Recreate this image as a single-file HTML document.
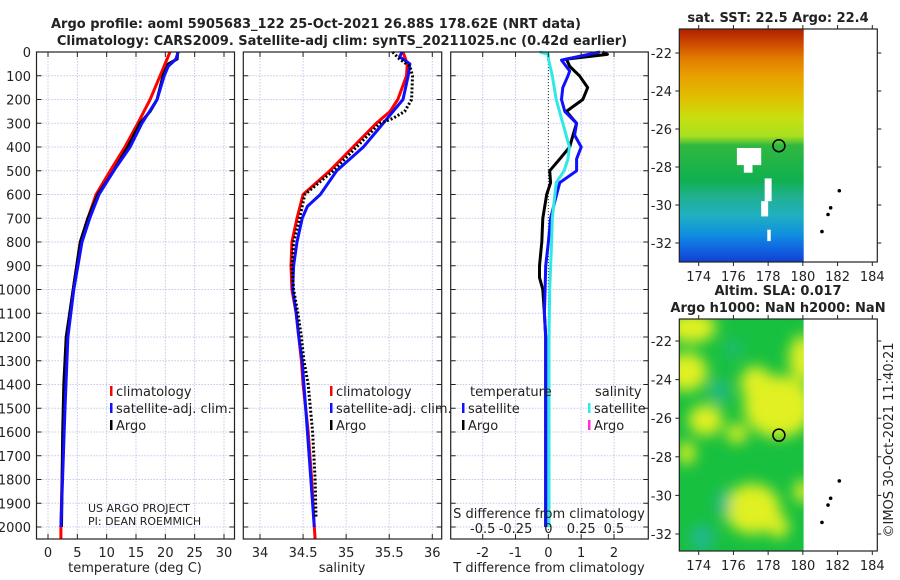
<!DOCTYPE html>
<html><head><meta charset="utf-8">
<style>
html,body{margin:0;padding:0;background:#fff;}
svg{display:block;font-family:"DejaVu Sans","Liberation Sans",sans-serif;}
</style></head>
<body>
<svg id="c" width="900" height="580" viewBox="0 0 900 580" xmlns="http://www.w3.org/2000/svg">
<defs>
<linearGradient id="sstGrad" x1="0" y1="0" x2="0" y2="1">
<stop offset="0" stop-color="#b02000"/><stop offset="0.05" stop-color="#c84000"/>
<stop offset="0.12" stop-color="#e07800"/><stop offset="0.2" stop-color="#e8a000"/>
<stop offset="0.3" stop-color="#e0c000"/><stop offset="0.38" stop-color="#c8e010"/>
<stop offset="0.46" stop-color="#a8e020"/><stop offset="0.5" stop-color="#30b840"/>
<stop offset="0.65" stop-color="#10b050"/><stop offset="0.72" stop-color="#20b090"/>
<stop offset="0.8" stop-color="#20b0c0"/><stop offset="0.88" stop-color="#1090e0"/>
<stop offset="0.95" stop-color="#1060e0"/><stop offset="1" stop-color="#1040d0"/>
</linearGradient>
<filter id="blur6"><feGaussianBlur stdDeviation="7"/></filter>
<clipPath id="clipSla"><rect x="679.3" y="319" width="124.4" height="232"/></clipPath>
</defs>
<g id="root"></g>
</svg>
<script>
// ---------- data ----------
const depthTicks = [0,100,200,300,400,500,600,700,800,900,1000,1100,1200,1300,1400,1500,1600,1700,1800,1900,2000];
const tempTicks = [0,5,10,15,20,25,30];
const salTicks = [34,34.5,35,35.5,36];
const salTickLabels = ["34","34.5","35","35.5","36"];
const diffTicks = [-2,-1,0,1,2];
const sdiffTicks = [-0.5,-0.25,0,0.25,0.5];
const sdiffLabels = ["-0.5","-0.25","0","0.25","0.5"];

const tClimDepth = [0,100,200,300,400,500,600,700,800,1000,1200,1500,2000,2050];
const tClimVal   = [20.8,19.1,17.4,15.3,13.1,10.6,8.2,6.8,5.5,4.3,3.2,2.7,2.2,2.2];
const tSatDepth  = [0,30,60,100,200,300,400,500,600,700,800,1000,1200,1500,2000];
const tSatVal    = [22.2,21.8,20.5,19.8,18.6,16.0,14.0,11.2,8.7,7.1,5.8,4.4,3.4,2.9,2.2];
const tArgoDepth = [0,30,50,100,200,250,300,400,500,600,700,800,1000,1200,1400,1600,1800,2000];
const tArgoVal   = [22.1,22.0,20.5,19.6,18.6,17.4,15.7,13.6,11.2,8.5,6.8,5.5,4.3,3.1,2.7,2.5,2.4,2.3];

const sClimDepth = [0,50,100,200,250,300,400,500,600,700,800,900,1000,1100,1200,1300,1400,1500,1600,1800,2000,2050];
const sClimVal   = [35.66,35.71,35.70,35.60,35.51,35.35,35.08,34.81,34.50,34.43,34.37,34.36,34.37,34.42,34.45,34.48,34.50,34.53,34.56,34.60,34.63,34.64];
const sSatDepth  = [0,20,50,100,200,300,400,500,600,650,700,800,900,1000,1100,1200,1300,1400,1500,2000];
const sSatVal    = [35.65,35.62,35.74,35.72,35.66,35.43,35.20,34.89,34.70,34.55,34.49,34.43,34.39,34.38,34.42,34.45,34.49,34.51,34.53,34.63];
const sArgoDepth = [0,15,30,60,100,200,250,280,300,400,500,600,700,800,900,1000,1100,1200,1300,1400,1600,1800,1960];
const sArgoVal   = [35.54,35.58,35.62,35.74,35.77,35.76,35.68,35.54,35.39,35.12,34.85,34.52,34.46,34.39,34.37,34.39,34.44,34.48,34.51,34.56,34.61,34.64,34.65];

const dTSatDepth = [0,34,80,100,150,200,250,300,350,400,450,500,550,600,700,800,900,1000,1100,1200,2000];
const dTSatVal   = [1.57,0.40,0.65,0.60,0.44,0.40,0.50,0.86,0.80,1.00,0.86,0.86,0.35,0.25,0.07,0.0,-0.08,-0.10,-0.12,-0.08,-0.08];
const dTArgoDepth = [0,10,30,60,100,150,200,250,300,350,400,450,500,550,600,700,800,900,950,1000,1100,1200,2000];
const dTArgoVal   = [1.65,1.80,0.55,0.65,0.95,1.20,1.05,0.55,0.86,0.75,0.65,0.35,0.04,0.07,-0.05,-0.17,-0.20,-0.27,-0.27,-0.17,-0.12,-0.08,-0.08];
const dSSatDepth = [0,10,30,100,200,300,400,450,500,550,600,700,800,1000,1200,2000];
const dSSatVal   = [-0.066,0.0,0.0,0.03,0.06,0.11,0.16,0.15,0.12,0.06,0.05,0.03,0.025,0.01,0.005,0.005];

const latTicks = [-22,-24,-26,-28,-30,-32];
const lonTicks = [174,176,178,180,182,184];
const argoLon = [178.62];
const argoLat = [-26.88];
const islandLon = [182.1,181.6,181.45,181.1];
const islandLat = [-29.25,-30.15,-30.5,-31.4];

// ---------- helpers ----------
const NS = "http://www.w3.org/2000/svg";
const root = document.getElementById('root');
function mk(tag, attrs, parent){
  const e = document.createElementNS(NS, tag);
  for (const k in attrs) e.setAttribute(k, attrs[k]);
  (parent||root).appendChild(e);
  return e;
}
function txt(s, x, y, size, anchor, weight, parent){
  const t = mk('text', {x:x, y:y, 'font-size':size, 'text-anchor':anchor||'middle', 'font-weight':weight||'normal', fill:'#222'}, parent);
  t.textContent = s;
  return t;
}
const TOP = 52, BOT = 539;
const yD = d => 52 + d * 0.2375;
function lin(d0,d1,r0,r1){ return v => r0 + (v-d0)/(d1-d0)*(r1-r0); }

const panels = [
  {name:'temperature-panel', x0:36.5, x1:234.5, sx: lin(0,30,48,224)},
  {name:'salinity-panel', x0:243.3, x1:441.7, sx: lin(34,36,260,432.3)},
  {name:'difference-panel', x0:450.7, x1:648.3, sx: lin(-2,2,482.7,614)}
];

function frame(p, xt){
  const g = mk('g', {});
  
  
  depthTicks.forEach(d => {
    const l = mk('line', {x1:p.x0, x2:p.x1, y1:yD(d), y2:yD(d), stroke:'#c4c8ea', 'stroke-width':1, 'stroke-dasharray':'1.5,1.5'}, g);
    
    
  });
  xt.forEach(v => {
    const x = p.sx(v);
    const l = mk('line', {x1:x, x2:x, y1:TOP, y2:BOT, stroke:'#c4c8ea', 'stroke-width':1, 'stroke-dasharray':'1.5,1.5'}, g);
    
    
  });
  return g;
}
function frameBox(p, g, xt, labels){
  mk('rect', {x:p.x0, y:TOP, width:p.x1-p.x0, height:BOT-TOP, fill:'none', stroke:'#222', 'stroke-width':1.2}, g);
  depthTicks.forEach(d => {
    mk('line', {x1:p.x0, x2:p.x0+5, y1:yD(d), y2:yD(d), stroke:'#222'}, g);
    mk('line', {x1:p.x1-5, x2:p.x1, y1:yD(d), y2:yD(d), stroke:'#222'}, g);
  });
  xt.forEach((v,i) => {
    const x = p.sx(v);
    mk('line', {x1:x, x2:x, y1:BOT, y2:BOT-5, stroke:'#222'}, g);
    mk('line', {x1:x, x2:x, y1:TOP, y2:TOP+5, stroke:'#222'}, g);
    const t = txt(labels ? labels[i] : String(v), x, 557, 13, 'middle', 'normal', g);
    
    
  });
}
function line(p, depths, vals, color, w, dash, g, name){
  const pts = depths.map((d,i) => p.sx(vals[i]).toFixed(1) + ',' + yD(d).toFixed(1)).join(' ');
  const a = {points:pts, fill:'none', stroke:color, 'stroke-width':w, 'stroke-linejoin':'round'};
  if (dash) a['stroke-dasharray'] = dash;
  const e = mk('polyline', a, g);
  
  
  return e;
}

const t1 = txt('Argo profile: aoml 5905683_122 25-Oct-2021 26.88S 178.62E (NRT data)', 316, 28, 13, 'middle', 'bold');


const t2 = txt('Climatology: CARS2009. Satellite-adj clim: synTS_20211025.nc (0.42d earlier)', 342, 45, 13, 'middle', 'bold');



depthTicks.forEach(d => {
  const t = txt(String(d), 31, yD(d)+5, 13, 'end');
  
  
});

let p = panels[0];
let g = frame(p, tempTicks);
line(p, tClimDepth, tClimVal, '#ff0000', 3, null, g, 'temp-climatology-line');
line(p, tArgoDepth, tArgoVal, '#000000', 3, null, g, 'temp-argo-line');
line(p, tSatDepth, tSatVal, '#1010ff', 3, null, g, 'temp-satellite-line');
frameBox(p, g, tempTicks);
let at = txt('temperature (deg C)', 135, 572, 13);



p = panels[1];
g = frame(p, salTicks);
line(p, sClimDepth, sClimVal, '#ff0000', 3, null, g, 'sal-climatology-line');
line(p, sSatDepth, sSatVal, '#1010ff', 3, null, g, 'sal-satellite-line');
line(p, sArgoDepth, sArgoVal, '#000000', 3, '2,2', g, 'sal-argo-line');
frameBox(p, g, salTicks, salTickLabels);
at = txt('salinity', 342, 572, 13);



p = panels[2];
g = frame(p, diffTicks);
const zl = mk('line', {x1:p.sx(0), x2:p.sx(0), y1:TOP, y2:BOT, stroke:'#333', 'stroke-width':1, 'stroke-dasharray':'1,2'}, g);


const ps = {sx: lin(-0.5,0.5,482.7,614)};
line(p, dTArgoDepth, dTArgoVal, '#000000', 3, null, g, 'tdiff-argo-line');
line(p, dTSatDepth, dTSatVal, '#1010ff', 3, null, g, 'tdiff-satellite-line');
line(ps, dSSatDepth, dSSatVal, '#30e8e8', 3, null, g, 'sdiff-satellite-line');
frameBox(p, g, diffTicks);
at = txt('T difference from climatology', 549, 572, 13);


at = txt('S difference from climatology', 549, 518, 13);


sdiffTicks.forEach((v,i) => {
  const t = txt(sdiffLabels[i], ps.sx(v), 533, 13);
  
  
});

function legend(x, y, color, label, name){
  const lg = mk('g', {});
  
  
  mk('rect', {x:x, y:y-10, width:2.5, height:10, fill:color}, lg);
  txt(label, x+6, y, 13, 'start', 'normal', lg);
}
legend(110, 396, '#ff0000', 'climatology', 'legend-entry-climatology');
legend(110, 413, '#1010ff', 'satellite-adj. clim.', 'legend-entry-satellite');
legend(110, 430, '#000000', 'Argo', 'legend-entry-argo');
legend(330, 396, '#ff0000', 'climatology', 'legend-entry-climatology-2');
legend(330, 413, '#1010ff', 'satellite-adj. clim.', 'legend-entry-satellite-2');
legend(330, 430, '#000000', 'Argo', 'legend-entry-argo-2');
let lt = txt('temperature', 470, 396, 13, 'start');


lt = txt('salinity', 595, 396, 13, 'start');


legend(462, 413, '#1010ff', 'satellite', 'legend-entry-tdiff-satellite');
legend(462, 430, '#000000', 'Argo', 'legend-entry-tdiff-argo');
legend(588, 413, '#30e8e8', 'satellite', 'legend-entry-sdiff-satellite');
legend(588, 430, '#ff30d0', 'Argo', 'legend-entry-sdiff-argo');

let pi = txt('US ARGO PROJECT', 88, 512, 11, 'start');


pi = txt('PI: DEAN ROEMMICH', 88, 525, 11, 'start');



const MX0 = 679.3, MX1 = 877.3;
const mlon = lin(174, 184, 698.7, 872.3);
function mapAxes(y0, y1, latFn, name, titles, field){
  const mg = mk('g', {});
  
  
  field(mg);
  mk('rect', {x:MX0, y:y0, width:MX1-MX0, height:y1-y0, fill:'none', stroke:'#222', 'stroke-width':1.2}, mg);
  latTicks.forEach(v => {
    const y = latFn(v);
    mk('line', {x1:MX0-4, x2:MX0, y1:y, y2:y, stroke:'#222'}, mg);
    mk('line', {x1:MX1, x2:MX1+4, y1:y, y2:y, stroke:'#222'}, mg);
    const t = txt(String(v), 672, y+5, 13, 'end', 'normal', mg);
    
    
  });
  lonTicks.forEach(v => {
    const x = mlon(v);
    mk('line', {x1:x, x2:x, y1:y1, y2:y1+4, stroke:'#222'}, mg);
    mk('line', {x1:x, x2:x, y1:y0-4, y2:y0, stroke:'#222'}, mg);
    const t = txt(String(v), x, y1+19, 13, 'middle', 'normal', mg);
    
    
  });
  islandLon.forEach((lo,i) => {
    const d = mk('circle', {cx:mlon(lo), cy:latFn(islandLat[i]), r:1.8, fill:'#000'}, mg);
    
    
  });
  argoLon.forEach((lo,i) => {
    const c = mk('circle', {cx:mlon(lo), cy:latFn(argoLat[i]), r:6, fill:'none', stroke:'#000', 'stroke-width':1.5}, mg);
    
    
  });
  titles.forEach(tt => {
    const t = txt(tt[0], 778, tt[1], 13, 'middle', 'bold', mg);
    
    
  });
}
const lat1 = lin(-22, -32, 53, 243);
mapAxes(29, 262, lat1, 'sst-map', [['sat. SST: 22.5 Argo: 22.4', 22]], mg => {
  const r = mk('rect', {x:MX0, y:29, width:124.4, height:233, fill:'url(#sstGrad)'}, mg);
  
  
  [[176.2,-27.0,1.4,0.9],[176.6,-27.7,0.5,0.6],[177.8,-28.6,0.4,1.2],[177.6,-29.8,0.4,0.8],[177.95,-31.3,0.2,0.6]].forEach(w => {
    mk('rect', {x:mlon(w[0]), y:lat1(w[1]), width:w[2]*17.36, height:w[3]*19, fill:'#fff'}, mg);
  });
});
const lat2 = lin(-22, -32, 341, 534);
mapAxes(319, 551, lat2, 'sla-map', [['Altim. SLA: 0.017', 295], ['Argo h1000: NaN h2000: NaN', 312]], mg => {
  const fg = mk('g', {'clip-path':'url(#clipSla)'}, mg);
  
  
  mk('rect', {x:MX0, y:319, width:124.4, height:232, fill:'#18c040'}, fg);
  const bg = mk('g', {filter:'url(#blur6)'}, fg);
  [[173.6,-21.3,1.4,0.8],[173.3,-23.6,1.2,1.0],[174.4,-26.1,1.0,0.8],[178.6,-25.4,2.0,1.6],[177.3,-24.2,0.9,0.9],[180.0,-22.9,0.8,1.2],[177.1,-30.7,1.6,1.3],[178.6,-31.6,0.6,0.6],[176.2,-26.8,0.6,0.5],[173.3,-27.8,0.5,0.6],[180.0,-29.8,0.5,0.6]].forEach(b => {
    mk('ellipse', {cx:mlon(b[0]), cy:lat2(b[1]), rx:b[2]*17.36, ry:b[3]*19.3, fill:'#e0f020'}, bg);
  });
  [[175.2,-24.6,0.5,0.6],[176.0,-22.4,0.4,0.4],[174.2,-32.2,0.7,0.7],[175.4,-30.4,0.4,0.7]].forEach(b => {
    mk('ellipse', {cx:mlon(b[0]), cy:lat2(b[1]), rx:b[2]*17.36, ry:b[3]*19.3, fill:'#20b890'}, bg);
  });
});

const im = txt('©IMOS 30-Oct-2021 11:40:21', 0, 0, 13, 'middle');
im.setAttribute('transform', 'translate(893,440) rotate(-90)');


</script>
</body></html>
